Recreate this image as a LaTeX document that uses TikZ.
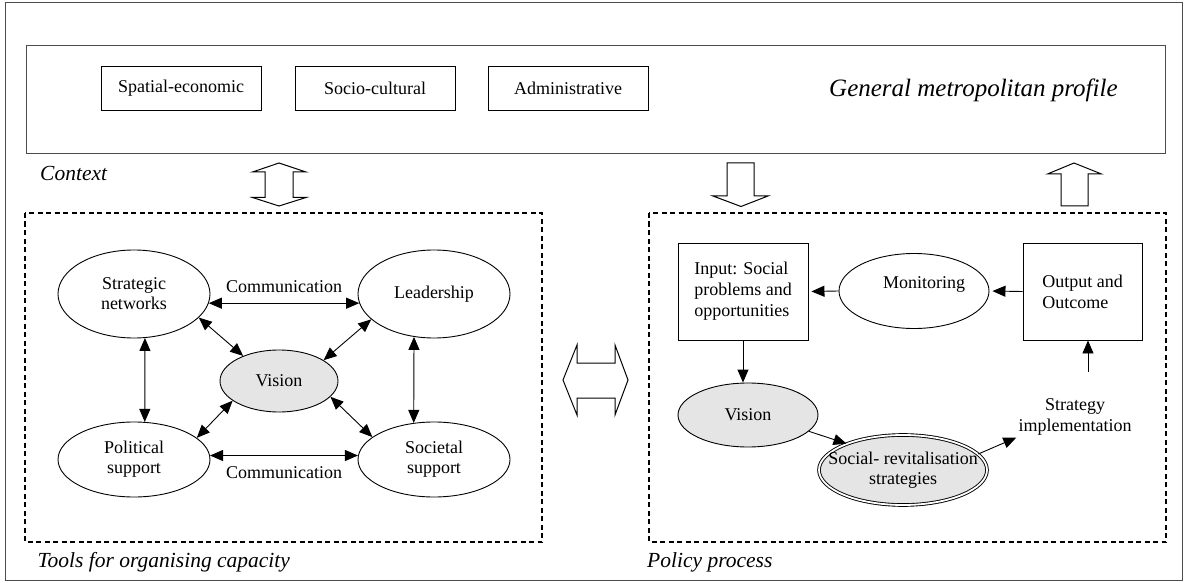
\documentclass[tikz,border=0pt]{standalone}
\usepackage{fontspec}
\setmainfont{Liberation Serif}
\usetikzlibrary{shapes.geometric,arrows.meta}

\tikzset{
  oval/.style={ellipse, draw, line width=0.9pt, inner sep=0pt, align=center, minimum width=152pt},
  shaded/.style={fill=black!10},
  smallbox/.style={draw, line width=0.9pt, minimum width=160pt, minimum height=44pt, inner sep=0pt},
  procbox/.style={draw, line width=0.9pt, minimum height=97pt, inner sep=0pt, align=left, font=\fontsize{18}{21}\selectfont},
  arr/.style={line width=0.9pt, -{Triangle[length=13pt,width=11pt]}},
  darr/.style={line width=0.9pt, {Triangle[length=13pt,width=11pt]}-{Triangle[length=13pt,width=11pt]}},
  panel/.style={draw, line width=1.3pt, dash pattern=on 5pt off 3.5pt},
  blockarrow/.style={draw, line width=1pt, fill=white, line join=miter},
  tag/.style={font=\fontsize{21.5}{24}\selectfont\itshape, inner sep=0pt},
}

\begin{document}
\begin{tikzpicture}[x=1pt, y=-1pt, font=\fontsize{18}{20}\selectfont]
      \useasboundingbox (0,0) rectangle (1187,583);
      \draw[line width=0.9pt, black!70] (5,2) rectangle (1182,580);
      \draw[line width=0.9pt, black!70] (26.5,45) rectangle (1165,153);
      \foreach \name/\x/\txt in {spatial/181/Spatial-economic, cultural/375/Socio-cultural, admin/568/Administrative} {
        \node[smallbox] (\name) at (\x,88) {\txt};
      }
      \node[anchor=base west, inner sep=0pt, font=\fontsize{25}{28}\selectfont\itshape] (profile) at (829,97) {General metropolitan profile};
      \node[tag, anchor=base west] (context) at (40,181) {Context};
      \node[tag, anchor=base west] (tools) at (37.5,567) {Tools for organising capacity};
      \node[tag, anchor=base west] (policy) at (647,567) {Policy process};

      \draw[blockarrow] (279,163) -- (306,172) -- (293,172) -- (293,197.5) -- (306,197.5) -- (279,206) -- (252.5,197.5) -- (265,197.5) -- (265,172) -- (252.5,172) -- cycle;
      \draw[blockarrow] (727,163) -- (754,163) -- (754,196) -- (768,196) -- (741,206.5) -- (713,196) -- (727,196) -- cycle;
      \draw[blockarrow] (1074,163) -- (1101.5,174) -- (1088,174) -- (1088,206) -- (1061,206) -- (1061,174) -- (1047.5,174) -- cycle;
      \draw[blockarrow] (563,380) -- (577,345) -- (577,363) -- (615,363) -- (615,345) -- (628,380) -- (615,415) -- (615,398) -- (577,398) -- (577,415) -- cycle;

      \draw[panel] (25,213) rectangle (542,542);
      \draw[panel] (649,213) rectangle (1166,542);

      \node[oval, minimum height=88pt] (strat) at (134,294) {Strategic\\networks};
      \node[oval, minimum height=88pt] (lead) at (434,294) {Leadership};
      \node[oval, shaded, minimum width=118pt, minimum height=62pt] (vision) at (279,381) {Vision};
      \node[oval, minimum height=75pt] (polit) at (134,459.5) {Political\\support};
      \node[oval, minimum height=75pt] (societ) at (434,459.5) {Societal\\support};
      \draw[darr] (strat.-7) -- node[above=6.5pt] (commtop) {Communication} (lead.187);
      \draw[darr] (polit.3) -- node[below=7pt] (commbot) {Communication} (societ.177);
      \draw[darr] (strat.-76) -- (polit.74);
      \draw[darr] (lead.245) -- (societ.119);
      \draw[darr] (strat.-20) -- (vision.145);
      \draw[darr] (lead.202) -- (vision.25);
      \draw[darr] (vision.203) -- (polit.19);
      \draw[darr] (vision.-17) -- (societ.160);

      \node[procbox, minimum width=130pt] (input) at (743,291.5) {Input: Social\\problems and\\opportunities};
      \node[oval, minimum width=150pt, minimum height=75pt] (monitor) at (914,291) {};
      \node (monitortext) at (924,284) {Monitoring};
      \node[procbox, minimum width=119pt] (output) at (1082.5,291.5) {Output and\\Outcome};
      \node[oval, shaded, minimum width=140pt, minimum height=64pt] (vision2) at (748,415) {Vision};
      \node[oval, shaded, double, double distance=1.8pt, minimum width=168pt, minimum height=70pt, inner xsep=-16pt] (revital) at (903,470) {Social- revitalisation\\strategies};
      \node[align=center, inner sep=2pt, font=\fontsize{18}{21}\selectfont] (implement) at (1075,417) {Strategy\\implementation};
      \coordinate (implup) at (1088,372);
      \draw[arr, shorten >=3pt] (monitor.west) -- (input.east);
      \draw[arr, shorten >=3pt] (output.west) -- (monitor.east);
      \draw[arr] (input.south) -- (input.south |- vision2.north);
      \draw[arr] (vision2.-15) -- (revital.155);
      \draw[arr] (revital.12) -- (implement.south west);
      \draw[arr] (implup) -- (implup |- output.south);
\end{tikzpicture}
\end{document}
